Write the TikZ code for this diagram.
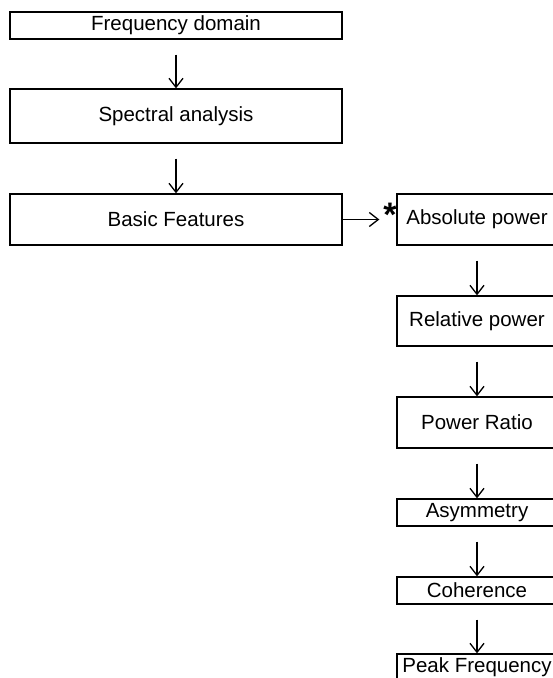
\documentclass[tikz,border=0pt]{standalone}
\usepackage{fontspec}
\setmainfont{Liberation Sans}
\usetikzlibrary{arrows.meta,positioning}

\begin{document}
\begin{tikzpicture}[
    x=1pt, y={(0pt,-1pt)},
    block/.style={rectangle, draw, line width=1.3pt, inner sep=0pt, font=\fontsize{20.5}{24}\selectfont, align=center},
    wide/.style={block, minimum width=332pt},
    narrow/.style={block, minimum width=160pt},
    arrow/.style={-{Straight Barb[length=9pt,width=14pt]}, line width=1.3pt, shorten <=15pt}
]
    \useasboundingbox (0,0) rectangle (553,678);
    \clip (0,0) rectangle (553,678);

    % Left column
    \node[wide, minimum height=27pt] (freq) at (176, 25.5) {Frequency domain};
    \node[wide, minimum height=54pt] (spectral) at (176, 116) {Spectral analysis};
    \node[wide, minimum height=51pt] (basic) at (176, 219.5) {Basic Features};

    % Right column
    \node[narrow, minimum height=51pt] (abspow) at (477, 219.5) {Absolute power};
    \node[narrow, minimum height=50pt] (relpow) at (477, 321) {Relative power};
    \node[narrow, minimum height=51pt] (ratio) at (477, 422.5) {Power Ratio};
    \node[narrow, minimum height=27pt] (asym) at (477, 512.5) {Asymmetry};
    \node[narrow, minimum height=27pt] (coh) at (477, 590.5) {Coherence};
    \node[narrow, minimum height=27pt] (peak) at (477, 667.5) {Peak Frequency};

    % Star
    \node[anchor=base, inner sep=0pt, font=\fontsize{34}{36}\selectfont\bfseries] (star) at (390, 226) {*};

    % Arrows
    \draw[arrow] (freq) -- (spectral);
    \draw[arrow] (spectral) -- (basic);
    \draw[arrow, shorten <=0pt, shorten >=17pt] (basic) -- (abspow);
    \draw[arrow] (abspow) -- (relpow);
    \draw[arrow] (relpow) -- (ratio);
    \draw[arrow] (ratio) -- (asym);
    \draw[arrow] (asym) -- (coh);
    \draw[arrow] (coh) -- (peak);

\end{tikzpicture}
\end{document}
